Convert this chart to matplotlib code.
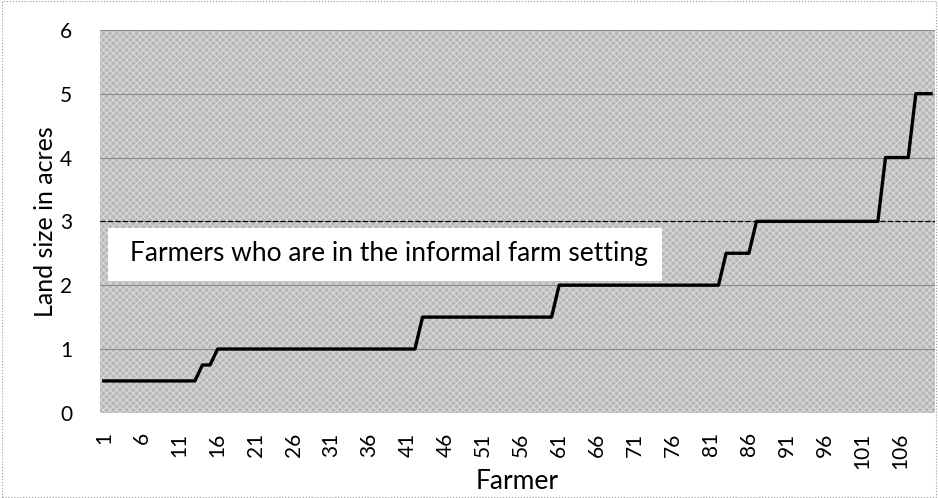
import matplotlib.pyplot as plt
import matplotlib.patches as mpatches
import numpy as np

# land size per farmer, read as runs of (value, count)
run_values = [0.5, 0.75, 1.0, 1.5, 2.0, 2.5, 3.0, 4.0, 5.0]
run_counts = [13, 2, 27, 18, 22, 4, 17, 4, 3]
land_size = np.repeat(run_values, run_counts)
farmers = np.arange(1, len(land_size) + 1)
threshold = 3
x_ticks = list(range(1, 107, 5))
y_ticks = [0, 1, 2, 3, 4, 5, 6]

plt.rcParams['font.family'] = ['Lato', 'DejaVu Sans']
plt.rcParams['hatch.linewidth'] = 0.7

fig = plt.figure(figsize=(9.38, 4.98), dpi=100)
ax = fig.add_axes([0.1066, 0.171, 0.89, 0.769])

# scanned grey texture of the plot area
ax.add_patch(mpatches.Rectangle((0, 0), 1, 1, transform=ax.transAxes,
                                facecolor='#b8b8b8', edgecolor='#dcdcdc',
                                hatch='xxxxx', linewidth=0, zorder=0))
ax.set_axisbelow(True)
ax.yaxis.grid(True, color='#8a8a8a', linewidth=0.8, zorder=1)

ax.plot(farmers, land_size, color='black', linewidth=2.4, zorder=3)
ax.axhline(threshold, color='black', linestyle=(0, (4, 2)), linewidth=0.9, zorder=3)

# white label box
ax.add_patch(mpatches.Rectangle((1.5, 2.07), 73.0, 0.83, facecolor='white',
                                edgecolor='none', zorder=4))
ax.text(4.4, 2.49, 'Farmers who are in the informal farm setting', fontsize=19,
        va='center', ha='left', zorder=5)

ax.set_xlim(0.5, len(land_size) + 0.5)
ax.set_ylim(0, 6)
ax.set_xticks(x_ticks)
ax.set_xticklabels([str(t) for t in x_ticks], rotation=90, fontsize=15)
ax.set_yticks(y_ticks)
ax.set_yticklabels([str(t) for t in y_ticks], fontsize=15)
ax.tick_params(axis='x', length=0, pad=14)
ax.tick_params(axis='y', length=0, pad=20)
for s in ax.spines.values():
    s.set_visible(False)

ax.set_xlabel('Farmer', fontsize=19, labelpad=0)
ax.set_ylabel('Land size in acres', fontsize=18, labelpad=2)

# dotted chart border
fig.patches.append(mpatches.Rectangle((0.002, 0.003), 0.996, 0.994, transform=fig.transFigure,
                                      fill=False, edgecolor='#9a9a9a', linewidth=0.8,
                                      linestyle=':'))

fig.savefig('out.png', dpi=100)
